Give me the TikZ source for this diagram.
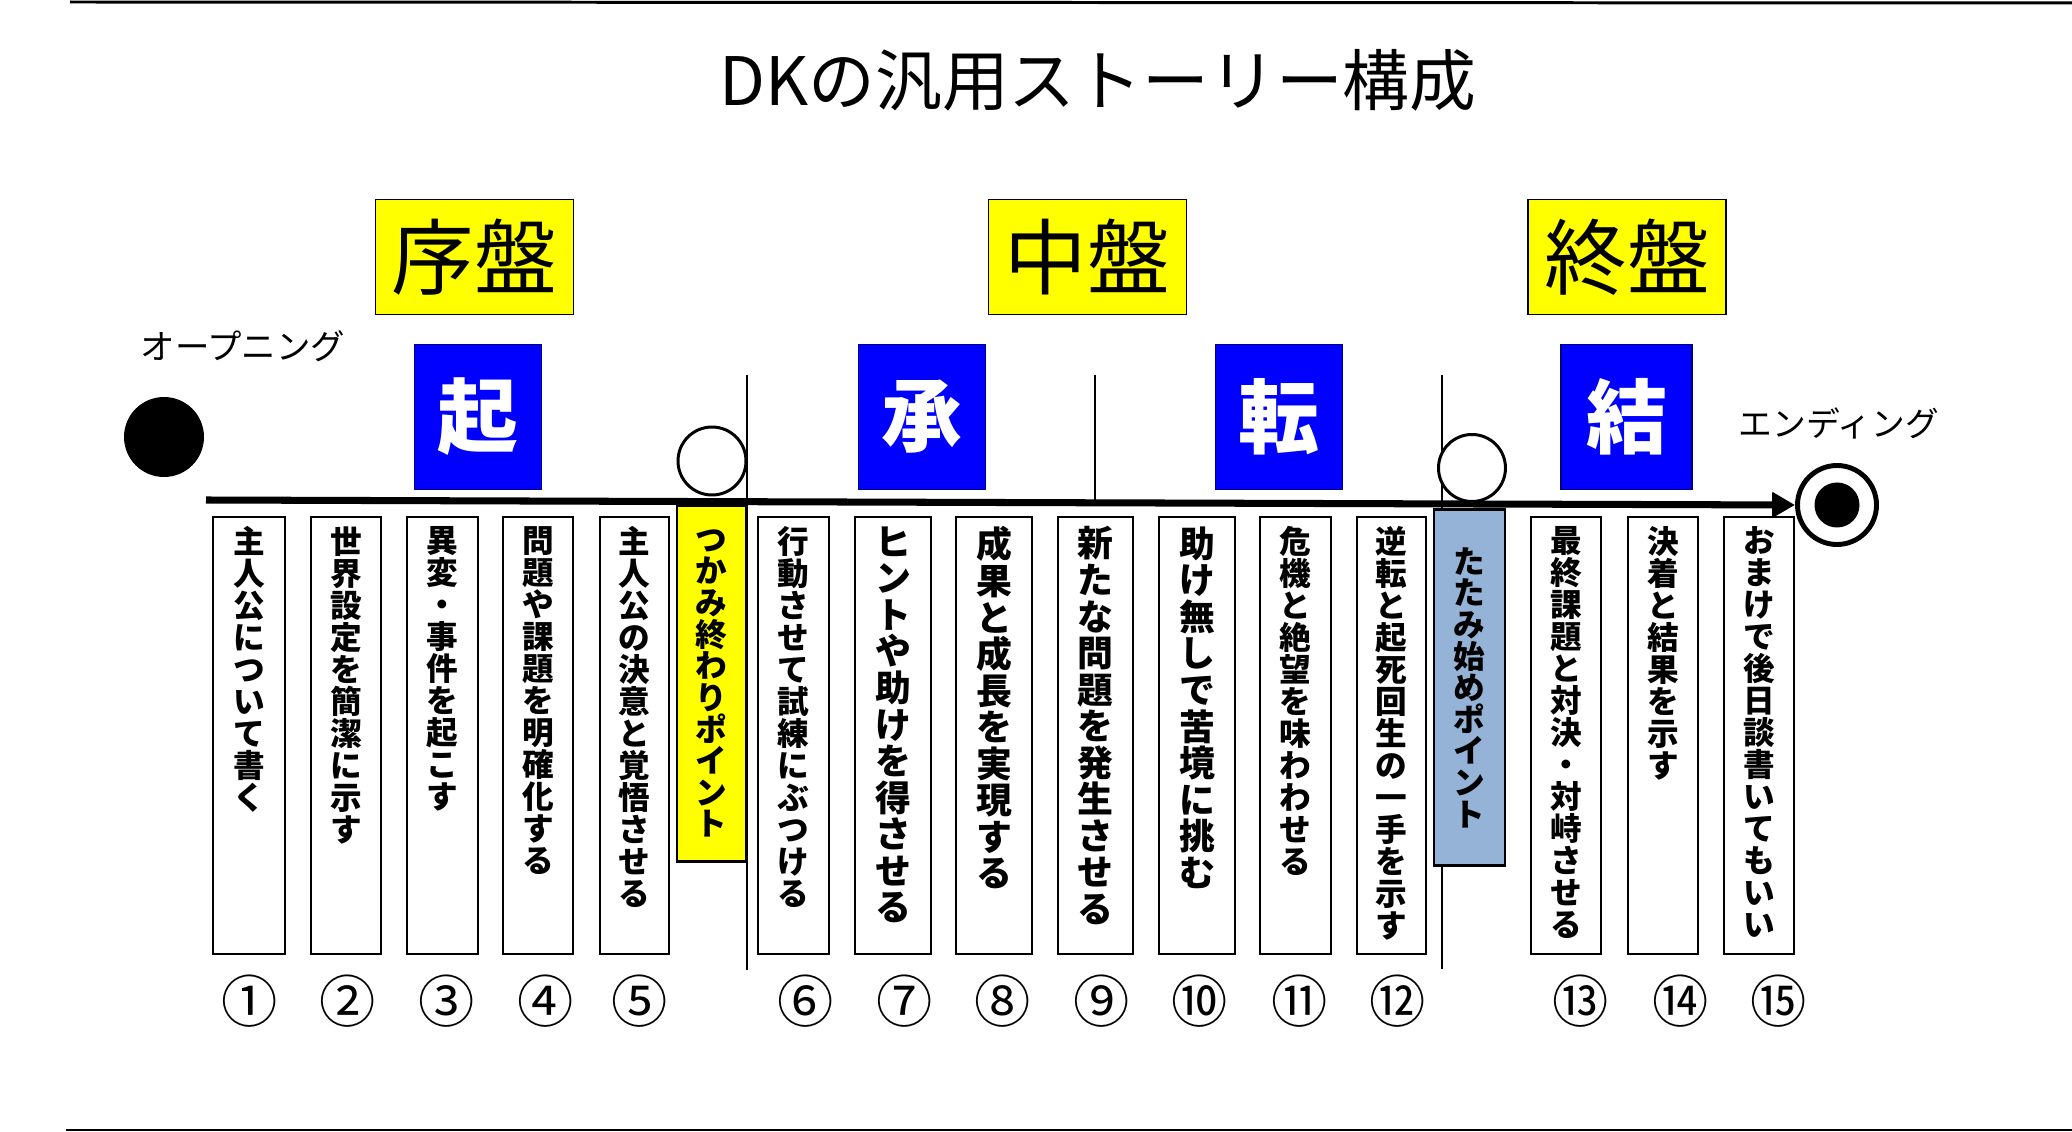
\documentclass[tikz,border=0pt]{standalone}
\usepackage{fontspec}
\setmainfont{Noto Sans CJK JP}
\usetikzlibrary{arrows.meta,positioning}
\definecolor{bandyellow}{RGB}{255,255,0}
\definecolor{actblue}{RGB}{0,0,255}
\definecolor{foldblue}{RGB}{149,179,215}
\makeatletter
\def\tate#1{\lineskiplimit=-5pt\edef\tate@s{#1}\expandafter\tate@i\tate@s\relax}
\def\tate@i#1{\ifx#1\relax\else#1\par\expandafter\tate@i\fi}
\makeatother
\tikzset{
stagebox/.style={draw,fill=bandyellow,line width=0.5pt,minimum width=1.98cm,minimum height=1.15cm,font=\fontsize{23.5}{23.5}\selectfont},
actbox/.style={draw=blue!50!black,fill=actblue,text=white,line width=0.5pt,minimum width=1.27cm,minimum height=1.45cm,font=\bfseries\fontsize{23}{23}\selectfont},
stepbox/.style={draw,line width=0.6pt,minimum height=4.37cm,anchor=north,inner sep=0pt},
steptext/.style={inner sep=0pt,text width=0.5cm,align=center},
pointbox/.style={draw,line width=0.6pt,minimum width=0.69cm,minimum height=3.56cm,inner sep=0pt,text width=0.5cm,align=center,font=\bfseries\fontsize{9}{9}\selectfont},
numtext/.style={inner sep=0pt,font=\fontsize{16}{16}\selectfont}
}
\begin{document}
\begin{tikzpicture}
\useasboundingbox[fill=white] (0,0) rectangle (20.72,-11.32);
\draw[line width=0.85pt] (0.70,-0.02)--(20.72,-0.03);
\draw[line width=0.85pt] (0.66,-11.30)--(20.72,-11.30);
\node[font=\fontsize{19}{19}\selectfont] (title) at (10.98,-0.80) {DKの汎用ストーリー構成};
\node[stagebox] (early) at (4.745,-2.57) {序盤};
\node[stagebox] (middle) at (10.875,-2.57) {中盤};
\node[stagebox] (late) at (16.27,-2.57) {終盤};
\node[actbox] (ki) at (4.78,-4.17) {起};
\node[actbox] (sho) at (9.22,-4.17) {承};
\node[actbox] (ten) at (12.79,-4.17) {転};
\node[actbox,minimum width=1.31cm] (ketsu) at (16.265,-4.17) {結};
\node[font=\fontsize{9.8}{9.8}\selectfont] (opening) at (2.43,-3.46) {オープニング};
\node[font=\fontsize{9.6}{9.6}\selectfont] (ending) at (18.39,-4.23) {エンディング};
\draw[line width=0.5pt] (7.47,-3.75)--(7.47,-9.70) (10.95,-3.75)--(10.95,-5.04) (14.42,-3.75)--(14.42,-9.69);
\node[circle,fill=black,minimum size=0.80cm,inner sep=0pt] (start) at (1.64,-4.37) {};
\node[circle,draw,fill=white,line width=0.85pt,minimum size=0.68cm,inner sep=0pt] (grippt) at (7.12,-4.61) {};
\node[circle,draw,fill=white,line width=0.85pt,minimum size=0.67cm,inner sep=0pt] (foldpt) at (14.72,-4.68) {};
\node[circle,draw,line width=1.4pt,minimum size=0.79cm,inner sep=0pt] (goal) at (18.37,-5.05) {};
\node[circle,fill=black,minimum size=0.45cm,inner sep=0pt] (goalcore) at (goal) {};
\coordinate (tl) at (2.06,-5.00);
\draw[line width=2pt,-{Triangle[length=6.5pt,width=7pt]}] (tl)--(goal.west);
\foreach \x/\w/\f/\s/\t [count=\i] in {2.49/0.72/9/9.1/主人公について書く,3.46/0.70/9/9.1/世界設定を簡潔に示す,4.425/0.71/9/9.1/異変・事件を起こす,5.38/0.70/9/9.1/問題や課題を明確化する,6.345/0.69/9/9.1/主人公の決意と覚悟させる,7.935/0.71/9/9.1/行動させて試練にぶつける,8.93/0.76/10.2/10.4/ヒントや助けを得させる,9.94/0.76/10.2/10.4/成果と成長を実現する,10.955/0.75/10.2/10.4/新たな問題を発生させる,11.97/0.76/10.2/10.4/助け無しで苦境に挑む,12.955/0.71/9/9.1/危機と絶望を味わわせる,13.915/0.69/9/9.1/逆転と起死回生の一手を示す,15.66/0.70/9/9.1/最終課題と対決・対峙させる,16.63/0.70/9/9.1/決着と結果を示す,17.59/0.70/9/9.1/おまけで後日談書いてもいい}{
\node[stepbox,minimum width=\w cm] (b\i) at (\x,-5.16) {};
\node[steptext,font=\bfseries\fontsize{\f}{\s}\selectfont,below=1mm of b\i.north] (t\i) {\tate{\t}};
}
\node[pointbox,fill=bandyellow] (grip) at (7.115,-6.835) {\tate{つかみ終わりポイント}};
\node[pointbox,fill=foldblue,minimum width=0.71cm] (fold) at (14.695,-6.875) {\tate{たたみ始めポイント}};
\foreach \x/\n [count=\i] in {2.50/①,3.48/②,4.47/③,5.46/④,6.40/⑤,8.06/⑥,9.05/⑦,10.03/⑧,11.02/⑨,12.00/⑩,13.00/⑪,13.98/⑫,15.81/⑬,16.81/⑭,17.79/⑮}
\node[numtext] (n\i) at (\x,-10.01) {\n};
\end{tikzpicture}
\end{document}
